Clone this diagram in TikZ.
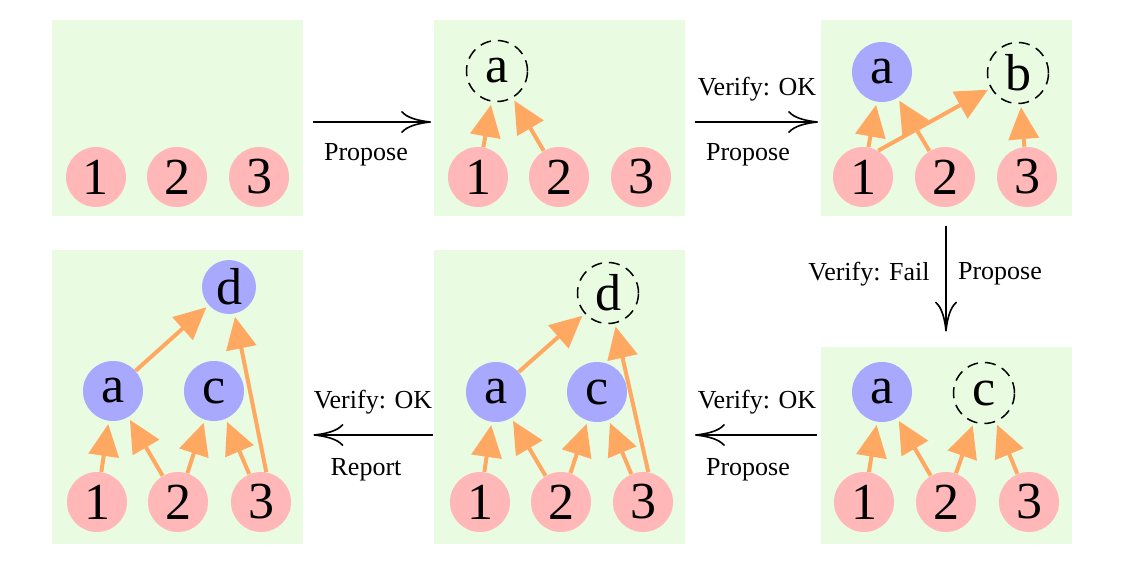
\documentclass[tikz,border=0pt]{standalone}
\usepackage{fontspec}
\setmainfont{Liberation Serif}
\usetikzlibrary{arrows.meta,positioning}
\definecolor{panelgreen}{RGB}{233,252,226}
\definecolor{numpink}{RGB}{255,183,183}
\definecolor{donecol}{RGB}{168,168,255}
\definecolor{edgeorange}{RGB}{255,168,98}
\tikzset{
  flow/.style={-{To[length=15pt,width=11pt]}, draw, black, line width=0.8pt},
}

\begin{document}
\begin{tikzpicture}[x=0.5pt,y=-0.5pt,
            panel/.style={rectangle,fill=panelgreen,inner sep=0pt,minimum width=125.5pt},
            num/.style={circle,fill=numpink,minimum size=30pt,inner sep=0pt,font=\fontsize{26}{26}\selectfont},
            done/.style={num,fill=donecol},
            fresh/.style={circle,draw=black,dash pattern=on 5.5pt off 3.5pt,line width=0.75pt,minimum size=30.5pt,inner sep=0pt,font=\fontsize{26}{26}\selectfont},
            dep/.style={-{Triangle[length=16pt,width=15pt]},draw=edgeorange,fill=edgeorange,line width=2pt,shorten >=1.5pt},
            lbl/.style={font=\fontsize{13}{13}\selectfont,inner sep=0pt}]
            \useasboundingbox (0,0) rectangle (1126,568);

            % panels
            \node[panel, minimum height=98pt] (p1) at (177.5,118) {};
            \node[panel, minimum height=98pt] (p2) at (559,118) {};
            \node[panel, minimum height=98pt] (p3) at (946,118) {};
            \node[panel, minimum height=98.5pt] (p4) at (946,445.5) {};
            \node[panel, minimum height=147pt] (p5) at (559,397) {};
            \node[panel, minimum height=147pt] (p6) at (177.5,397) {};

            % step 1
            \node[num] (p1-1) at (96,177) {1};
            \node[num] (p1-2) at (177,177) {2};
            \node[num] (p1-3) at (259,177) {3};

            % step 2
            \node[num] (p2-1) at (478,177) {1};
            \node[num] (p2-2) at (559,177) {2};
            \node[num] (p2-3) at (641,177) {3};
            \node[fresh] (p2-a) at (497,71) {a};
            \draw[dep] (p2-1) -- (p2-a);
            \draw[dep] (p2-2) -- (p2-a);

            % step 3
            \node[num] (p3-1) at (863,177) {1};
            \node[num] (p3-2) at (945,177) {2};
            \node[num] (p3-3) at (1027,177) {3};
            \node[done] (p3-a) at (882,72) {a};
            \node[fresh] (p3-b) at (1018,73) {b};
            \draw[dep] (p3-1) -- (p3-a);
            \draw[dep] (p3-2) -- (p3-a);
            \draw[dep] (p3-1.60) -- (p3-b);
            \draw[dep] (p3-3) -- (p3-b);

            % step 4
            \node[num] (p4-1) at (864,502) {1};
            \node[num] (p4-2) at (946,502) {2};
            \node[num] (p4-3) at (1029,502) {3};
            \node[done] (p4-a) at (882,392) {a};
            \node[fresh] (p4-c) at (984,393) {c};
            \draw[dep] (p4-1) -- (p4-a);
            \draw[dep] (p4-2) -- (p4-a);
            \draw[dep] (p4-2) -- (p4-c);
            \draw[dep] (p4-3) -- (p4-c);

            % step 5
            \node[num] (p5-1) at (480,502) {1};
            \node[num] (p5-2) at (561,502) {2};
            \node[num] (p5-3) at (643,502) {3};
            \node[done] (p5-a) at (496,392) {a};
            \node[done] (p5-c) at (597,392) {c};
            \node[fresh] (p5-d) at (608,293) {d};
            \draw[dep] (p5-1) -- (p5-a);
            \draw[dep] (p5-2) -- (p5-a);
            \draw[dep] (p5-2) -- (p5-c);
            \draw[dep] (p5-3) -- (p5-c);
            \draw[dep] (p5-a) -- (p5-d);
            \draw[dep] (p5-3.80) -- (p5-d);

            % step 6
            \node[num] (p6-1) at (97,502) {1};
            \node[num] (p6-2) at (178,502) {2};
            \node[num] (p6-3) at (261,502) {3};
            \node[done] (p6-a) at (113,391) {a};
            \node[done] (p6-c) at (214,391) {c};
            \node[done, minimum size=27pt] (p6-d) at (229,287) {d};
            \draw[dep] (p6-1) -- (p6-a);
            \draw[dep] (p6-2) -- (p6-a);
            \draw[dep] (p6-2) -- (p6-c);
            \draw[dep] (p6-3) -- (p6-c);
            \draw[dep] (p6-a) -- (p6-d);
            \draw[dep] (p6-3.80) -- (p6-d);

            % flow between steps
            \coordinate (row1) at (0,122);
            \coordinate (row2) at (0,435);
            \draw[flow, shorten <=5pt, shorten >=1pt] (p1.east |- row1) -- (p2.west |- row1);
            \draw[flow, shorten <=5pt, shorten >=1pt] (p2.east |- row1) -- (p3.west |- row1);
            \draw[flow, shorten <=5pt, shorten >=7.5pt] (p3.south) -- (p4.north);
            \draw[flow, shorten <=1.5pt, shorten >=5pt] (p4.west |- row2) -- (p5.east |- row2);
            \draw[flow, shorten >=5pt] (p5.west |- row2) -- (p6.east |- row2);

            \node[lbl] (l1) at (366,155) {Propose};
            \node[lbl] (l2a) at (757,89) {Verify: OK};
            \node[lbl] (l2b) at (748,155) {Propose};
            \node[lbl] (l3a) at (869,274) {Verify: Fail};
            \node[lbl] (l3b) at (1000,274) {Propose};
            \node[lbl] (l4a) at (757,402) {Verify: OK};
            \node[lbl] (l4b) at (748,470) {Propose};
            \node[lbl] (l5a) at (373,402) {Verify: OK};
            \node[lbl] (l5b) at (366,470) {Report};
\end{tikzpicture}
\end{document}
